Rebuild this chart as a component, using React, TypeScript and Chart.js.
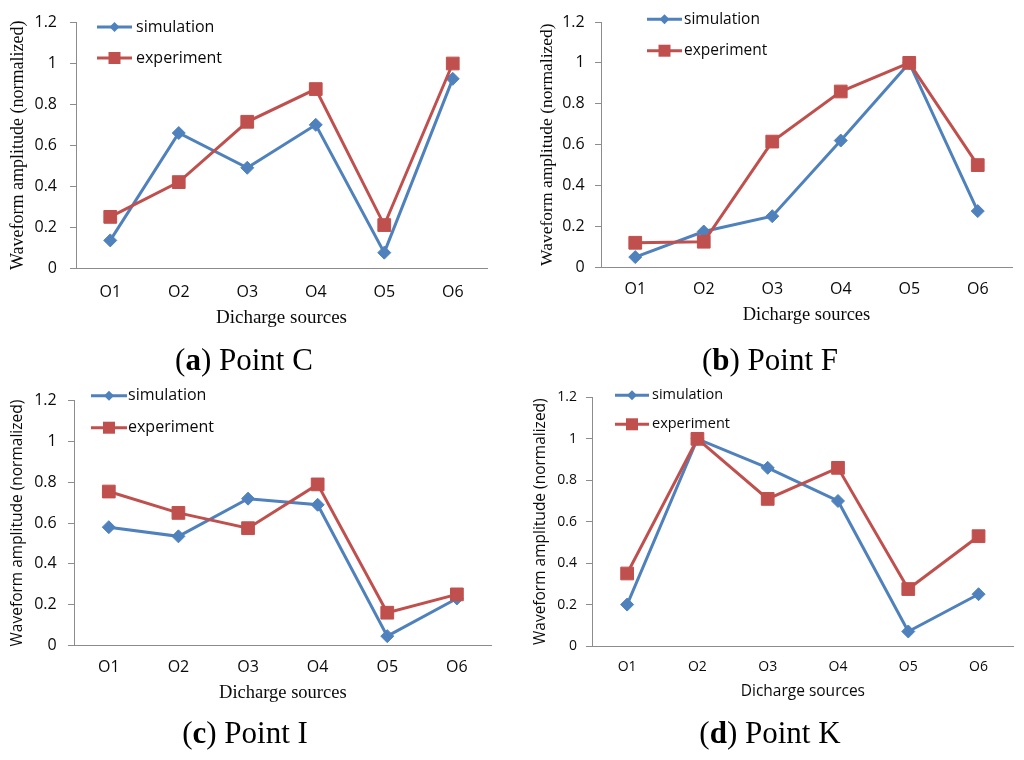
import React, { useEffect, useRef } from "react";
import { Chart, registerables } from "chart.js";

Chart.register(...registerables);

// ---------- data ----------
const categories = ["O1", "O2", "O3", "O4", "O5", "O6"];
const seriesNames = ["simulation", "experiment"];

const simulationC = [0.135, 0.66, 0.49, 0.70, 0.075, 0.925];
const experimentC = [0.25, 0.42, 0.715, 0.875, 0.21, 1.0];

const simulationF = [0.05, 0.175, 0.25, 0.62, 1.0, 0.275];
const experimentF = [0.12, 0.125, 0.615, 0.86, 1.0, 0.50];

const simulationI = [0.58, 0.535, 0.72, 0.69, 0.045, 0.23];
const experimentI = [0.755, 0.65, 0.575, 0.79, 0.16, 0.25];

const simulationK = [0.20, 1.0, 0.86, 0.70, 0.07, 0.25];
const experimentK = [0.35, 1.0, 0.71, 0.86, 0.275, 0.53];

const yTickLabels = ["0", "0.2", "0.4", "0.6", "0.8", "1", "1.2"];
const captionLetters = ["a", "b", "c", "d"];
const captionNames = ["Point C", "Point F", "Point I", "Point K"];
const yAxisTitle = "Waveform amplitude (normalized)";
const xAxisTitle = "Dicharge sources";
const yMin = 0;
const yMax = 1.2;
const yStep = 0.2;

// ---------- styles ----------
const SERIF = '"Liberation Serif", "Times New Roman", serif';
const SANS = '"Open Sans", "Liberation Sans", sans-serif';
const BLUE = "#4f81bd";
const RED = "#c0504d";
const AXIS = "#8c8c8c";
const TEXT = "#0a0a0a";
const W = 512;
const H = 380;
const XH = 80;

const panels = [
  {
    left: 0, top: 0, sim: simulationC, exp: experimentC,
    area: { l: 76, r: 487, t: 15.3, b: 268 },
    yTickRight: 57, tickSize: 16, xTickY: 292,
    yTitleX: 18, yTitleFamily: SERIF, yTitleSize: 18,
    xTitleY: 318, xTitleFamily: SERIF, xTitleSize: 19,
    legend: { x1: 97, x2: 132, tx: 136, rows: [27, 58], size: 16 },
    capX: 244, capY: 360,
  },
  {
    left: 512, top: 0, sim: simulationF, exp: experimentF,
    area: { l: 89, r: 500, t: 22, b: 267.3 },
    yTickRight: 72.7, tickSize: 16, xTickY: 289.3,
    yTitleX: 35, yTitleFamily: SERIF, yTitleSize: 17.5,
    xTitleY: 315, xTitleFamily: SERIF, xTitleSize: 18.5,
    legend: { x1: 135, x2: 170, tx: 172, rows: [19.3, 50.7], size: 15.5 },
    capX: 258, capY: 360,
  },
  {
    left: 0, top: 380, sim: simulationI, exp: experimentI,
    area: { l: 74, r: 491.7, t: 16.7, b: 265.3 },
    yTickRight: 56.7, tickSize: 16, xTickY: 287.3,
    yTitleX: 18, yTitleFamily: SANS, yTitleSize: 15.5,
    xTitleY: 313.3, xTitleFamily: SERIF, xTitleSize: 18.5,
    legend: { x1: 91, x2: 127, tx: 128, rows: [15.7, 47.7], size: 16 },
    capX: 245, capY: 353,
  },
  {
    left: 512, top: 380, sim: simulationK, exp: experimentK,
    area: { l: 80, r: 501.7, t: 15.7, b: 266 },
    yTickRight: 65, tickSize: 14, xTickY: 286.7,
    yTitleX: 28.3, yTitleFamily: SANS, yTitleSize: 15.5,
    xTitleY: 311.7, xTitleFamily: SANS, xTitleSize: 15.5,
    legend: { x1: 103, x2: 137, tx: 140, rows: [15.3, 44.3], size: 14.5 },
    capX: 258, capY: 353,
  },
];

const insideLegend = {
  id: "insideLegend",
  afterDraw(chart: any, _args: any, opts: any) {
    const ctx = chart.ctx;
    ctx.save();
    chart.data.datasets.forEach((ds: any, i: number) => {
      const y = opts.rows[i];
      ctx.strokeStyle = ds.borderColor;
      ctx.lineWidth = 3;
      ctx.beginPath();
      ctx.moveTo(opts.x1, y);
      ctx.lineTo(opts.x2, y);
      ctx.stroke();
      const cx = (opts.x1 + opts.x2) / 2;
      ctx.fillStyle = ds.borderColor;
      ctx.beginPath();
      if (ds.pointStyle === "rectRot") {
        const r = 5;
        ctx.moveTo(cx - r, y);
        ctx.lineTo(cx, y - r);
        ctx.lineTo(cx + r, y);
        ctx.lineTo(cx, y + r);
        ctx.closePath();
      } else {
        const s = 6;
        ctx.rect(cx - s, y - s, 2 * s, 2 * s);
      }
      ctx.fill();
      ctx.fillStyle = TEXT;
      ctx.font = `${opts.size}px ${SANS}`;
      ctx.textBaseline = "middle";
      ctx.textAlign = "left";
      ctx.fillText(ds.label, opts.tx, y);
    });
    ctx.restore();
  },
};

function Panel({ p, idx }: { p: any; idx: number }) {
  const ref = useRef<HTMLCanvasElement | null>(null);
  useEffect(() => {
    if (!ref.current) return;
    const yTitleLH = p.yTitleSize * 1.2;
    const xTitleLH = p.xTitleSize * 1.2;
    const chart = new Chart(ref.current, {
      type: "line",
      data: {
        labels: categories,
        datasets: [
          {
            label: seriesNames[0],
            data: p.sim,
            borderColor: BLUE,
            backgroundColor: BLUE,
            borderWidth: 3,
            pointStyle: "rectRot",
            pointRadius: 6.5,
            pointBorderWidth: 1,
            pointBorderColor: BLUE,
            pointBackgroundColor: BLUE,
            tension: 0,
            order: 2,
          },
          {
            label: seriesNames[1],
            data: p.exp,
            borderColor: RED,
            backgroundColor: RED,
            borderWidth: 3,
            pointStyle: "rect",
            pointRadius: 9,
            pointBorderWidth: 1,
            pointBorderColor: RED,
            pointBackgroundColor: RED,
            tension: 0,
            order: 1,
          },
        ],
      },
      options: {
        responsive: false,
        animation: false,
        devicePixelRatio: 1,
        layout: {
          padding: { left: 0, top: p.area.t, right: W - p.area.r, bottom: H - p.area.b - XH },
        },
        plugins: {
          legend: { display: false },
          tooltip: { enabled: false },
          insideLegend: p.legend,
        } as any,
        scales: {
          x: {
            type: "category",
            offset: true,
            grid: { display: false, drawTicks: false },
            border: { color: AXIS, width: 1 },
            ticks: {
              font: { family: SANS, size: p.tickSize },
              color: TEXT,
              padding: p.xTickY - p.area.b - (p.tickSize * 1.2) / 2,
              autoSkip: false,
              maxRotation: 0,
            },
            title: {
              display: true,
              text: xAxisTitle,
              font: { family: p.xTitleFamily, size: p.xTitleSize },
              color: TEXT,
              padding: { top: 0, bottom: p.area.b + XH - xTitleLH / 2 - p.xTitleY },
            },
            afterFit: (s: any) => {
              s.height = XH;
            },
          },
          y: {
            min: yMin,
            max: yMax,
            ticks: {
              stepSize: yStep,
              font: { family: SANS, size: p.tickSize },
              color: TEXT,
              padding: p.area.l - 6 - p.yTickRight,
              callback: (_v: any, i: number) => yTickLabels[i],
            },
            grid: { drawOnChartArea: false, drawTicks: true, tickLength: 6, color: AXIS },
            border: { color: AXIS, width: 1 },
            title: {
              display: true,
              text: yAxisTitle,
              font: { family: p.yTitleFamily, size: p.yTitleSize },
              color: TEXT,
              padding: { top: p.yTitleX - yTitleLH / 2, bottom: 0 },
            },
            afterFit: (s: any) => {
              s.width = p.area.l;
            },
          },
        },
      } as any,
      plugins: [insideLegend as any],
    });
    return () => chart.destroy();
  }, []);

  return (
    <div style={{ position: "absolute", left: p.left, top: p.top, width: W, height: H }}>
      <canvas ref={ref} width={W} height={H} style={{ width: W, height: H, display: "block" }} />
      <div
        style={{
          position: "absolute",
          left: p.capX - 200,
          top: p.capY - 20,
          width: 400,
          height: 40,
          lineHeight: "40px",
          textAlign: "center",
          fontFamily: SERIF,
          fontSize: 31,
          color: "#000",
          whiteSpace: "nowrap",
        }}
      >
        (<b>{captionLetters[idx]}</b>) {captionNames[idx]}
      </div>
    </div>
  );
}

export default function App() {
  return (
    <div
      style={{
        position: "absolute",
        left: 0,
        top: 0,
        width: 1024,
        height: 760,
        background: "#fff",
        overflow: "hidden",
      }}
    >
      {panels.map((p, i) => (
        <Panel key={i} p={p} idx={i} />
      ))}
    </div>
  );
}
